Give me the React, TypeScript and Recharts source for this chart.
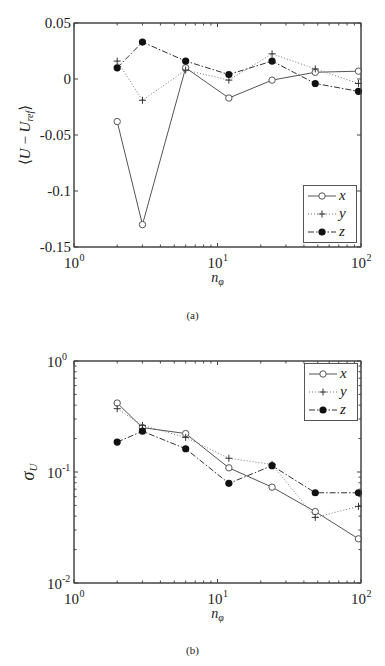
import React from 'react';
import { LineChart, Line, XAxis, YAxis, ReferenceLine } from 'recharts';

// n_phi values (x axis, log scale)
const nPhi = [2, 3, 6, 12, 24, 48, 96];

// (a) mean error <U - U_ref>
const meanX = [-0.038, -0.13, 0.01, -0.017, -0.001, 0.006, 0.007];
const meanY = [0.016, -0.019, 0.008, -0.001, 0.0225, 0.009, -0.004];
const meanZ = [0.01, 0.033, 0.016, 0.004, 0.016, -0.004, -0.011];

// (b) sigma_U
const sigmaX = [0.418, 0.251, 0.222, 0.109, 0.073, 0.044, 0.025];
const sigmaY = [0.372, 0.263, 0.205, 0.133, 0.117, 0.039, 0.049];
const sigmaZ = [0.186, 0.233, 0.162, 0.079, 0.114, 0.065, 0.065];

// ticks and their labels
const xTicks = [1, 10, 100];
const xTickExp = ['0', '1', '2'];
const meanTicks = [-0.15, -0.1, -0.05, 0, 0.05];
const meanTickLabels = ['-0.15', '-0.1', '-0.05', '0', '0.05'];
const sigmaTicks = [0.01, 0.1, 1];
const sigmaTickExp = ['-2', '-1', '0'];

const meanData = nPhi.map((n, i) => ({ n, x: meanX[i], y: meanY[i], z: meanZ[i] }));
const sigmaData = nPhi.map((n, i) => ({ n, x: sigmaX[i], y: sigmaY[i], z: sigmaZ[i] }));

const FONT = '"Liberation Serif", "DejaVu Serif", serif';
const AXIS = '#444';
const TXT = '#222';

const W = 385;
const LEFT = 74;
const RIGHT = 24;
const PLOT_W = W - LEFT - RIGHT;
const DECADE_W = PLOT_W / 2;
// chart (a)
const A_H = 290, A_TOP = 23, A_BOT = 3, A_XH = 40;
const A_PLOT_H = A_H - A_TOP - A_BOT - A_XH;
// chart (b)
const B_H = 300, B_TOP = 31, B_BOT = 10, B_XH = 37;
const B_PLOT_H = B_H - B_TOP - B_BOT - B_XH;
const B_DECADE_H = B_PLOT_H / 2;

// fractional offsets of 2..9 inside a decade
const MINOR = [2, 3, 4, 5, 6, 7, 8, 9].map((k) => Math.log10(k));

// x ticks: inward marks on bottom and top edges, decade label below
const XTick = (props: any) => {
  const { x, y, index, span, last } = props;
  let d = `M${x},${y}v-4M${x},${y - span}v4`;
  if (index < last) {
    MINOR.forEach((f) => {
      const mx = x + f * DECADE_W;
      d += `M${mx},${y}v-2.5M${mx},${y - span}v2.5`;
    });
  }
  return (
    <g>
      <path d={d} stroke={AXIS} strokeWidth={1} fill="none" />
      <text x={x - 2.5} y={y + 21} textAnchor="middle" fontSize={15} fill={TXT} fontFamily={FONT}>10</text>
      <text x={x + 5.5} y={y + 14} textAnchor="start" fontSize={10} fill={TXT} fontFamily={FONT}>{xTickExp[index]}</text>
    </g>
  );
};

// linear y ticks for (a), marks on left and right edges
const YTickLinear = (props: any) => {
  const { x, y, index } = props;
  return (
    <g>
      <path d={`M${x},${y}h4M${x + PLOT_W},${y}h-4`} stroke={AXIS} strokeWidth={1} fill="none" />
      <text x={x - 3} y={y + 5} textAnchor="end" fontSize={15} fill={TXT} fontFamily={FONT}>
        {meanTickLabels[index]}
      </text>
    </g>
  );
};

// log y ticks for (b), marks on left and right edges
const YTickLog = (props: any) => {
  const { x, y, index } = props;
  let d = `M${x},${y}h4M${x + PLOT_W},${y}h-4`;
  if (index > 0) {
    MINOR.forEach((f) => {
      const my = y + B_DECADE_H - f * B_DECADE_H;
      d += `M${x},${my}h2.5M${x + PLOT_W},${my}h-2.5`;
    });
  }
  return (
    <g>
      <path d={d} stroke={AXIS} strokeWidth={1} fill="none" />
      <text x={x - 12} y={y + 6} textAnchor="end" fontSize={15} fill={TXT} fontFamily={FONT}>10</text>
      <text x={x - 12} y={y - 1} textAnchor="start" fontSize={10} fill={TXT} fontFamily={FONT}>{sigmaTickExp[index]}</text>
    </g>
  );
};

const XTitle = (props: any) => {
  const { viewBox } = props;
  const cx = viewBox.x + viewBox.width / 2;
  return (
    <text x={cx} y={viewBox.y + 35} textAnchor="middle" fontSize={14} fill={TXT} fontFamily={FONT}>
      <tspan fontStyle="italic">n</tspan>
      <tspan dy={3} fontSize={10} fontStyle="italic">φ</tspan>
    </text>
  );
};

const MeanTitle = (props: any) => {
  const { viewBox } = props;
  const cy = viewBox.y + viewBox.height / 2;
  const tx = 30;
  return (
    <text x={tx} y={cy} transform={`rotate(-90 ${tx} ${cy})`} textAnchor="middle" fontSize={15} fill={TXT} fontFamily={FONT}>
      ⟨<tspan fontStyle="italic">U</tspan> − <tspan fontStyle="italic">U</tspan>
      <tspan dy={3} fontSize={10} fontStyle="italic">ref</tspan>
      <tspan dy={-3}>⟩</tspan>
    </text>
  );
};

const SigmaTitle = (props: any) => {
  const { viewBox } = props;
  const cy = viewBox.y + viewBox.height / 2;
  const tx = 34;
  return (
    <text x={tx} y={cy} transform={`rotate(-90 ${tx} ${cy})`} textAnchor="middle" fontSize={18} fill={TXT} fontFamily={FONT}>
      <tspan fontStyle="italic">σ</tspan>
      <tspan dy={3} fontSize={11} fontStyle="italic">U</tspan>
    </text>
  );
};

const OpenDot = (p: any) => (
  <circle key={`o${p.index}`} cx={p.cx} cy={p.cy} r={3.2} fill="#fff" stroke="#555" strokeWidth={1} />
);
const PlusDot = (p: any) => (
  <path key={`p${p.index}`} d={`M${p.cx - 3.5},${p.cy}h7M${p.cx},${p.cy - 3.5}v7`} stroke="#333" strokeWidth={1} />
);
const FillDot = (p: any) => <circle key={`f${p.index}`} cx={p.cx} cy={p.cy} r={3.6} fill="#111" />;

const LINE_X = { stroke: '#555', strokeWidth: 1 };
const LINE_Y = { stroke: '#777', strokeWidth: 1, strokeDasharray: '1 2' };
const LINE_Z = { stroke: '#333', strokeWidth: 1, strokeDasharray: '6 2 1.5 2' };

const LegendBox = ({ left, top }: { left: number; top: number }) => {
  const rows = [
    { label: 'x', line: LINE_X, mark: (cx: number, cy: number) => <circle cx={cx} cy={cy} r={3.2} fill="#fff" stroke="#555" /> },
    { label: 'y', line: LINE_Y, mark: (cx: number, cy: number) => <path d={`M${cx - 3.5},${cy}h7M${cx},${cy - 3.5}v7`} stroke="#333" /> },
    { label: 'z', line: LINE_Z, mark: (cx: number, cy: number) => <circle cx={cx} cy={cy} r={3.6} fill="#111" /> },
  ];
  return (
    <svg width={54} height={58} style={{ position: 'absolute', left, top }}>
      <rect x={0.5} y={0.5} width={53} height={57} fill="#fff" stroke="#555" />
      {rows.map((r, i) => {
        const cy = 11 + i * 18;
        return (
          <g key={r.label}>
            <line x1={5} x2={33} y1={cy} y2={cy} {...r.line} />
            {r.mark(19, cy)}
            <text x={36} y={cy + 4} fontSize={15} fontStyle="italic" fill={TXT} fontFamily={FONT}>{r.label}</text>
          </g>
        );
      })}
    </svg>
  );
};

// plot frame drawn over the chart
const Frame = ({ top, height }: { top: number; height: number }) => (
  <svg width={W} height={top + height + 2} style={{ position: 'absolute', left: 0, top: 0, pointerEvents: 'none' }}>
    <rect x={LEFT} y={top} width={PLOT_W} height={height} fill="none" stroke={AXIS} strokeWidth={1} />
  </svg>
);

const Caption = ({ top, text }: { top: number; text: string }) => (
  <div style={{ position: 'absolute', left: 0, top, width: W, textAlign: 'center', fontSize: 11, color: TXT, fontFamily: FONT }}>
    {text}
  </div>
);

export default function App() {
  return (
    <div style={{ position: 'absolute', left: 0, top: 0, width: W, height: 666, background: '#fff', fontFamily: FONT }}>
      <div style={{ position: 'absolute', left: 0, top: 0, width: W, height: A_H }}>
        <LineChart width={W} height={A_H} data={meanData} margin={{ top: A_TOP, right: RIGHT, bottom: A_BOT, left: 0 }}>
          <XAxis dataKey="n" type="number" scale="log" domain={[1, 100]} ticks={xTicks} interval={0}
            height={A_XH} tickSize={0} tickMargin={0} tickLine={false} stroke={AXIS}
            tick={<XTick span={A_PLOT_H} last={2} />} label={<XTitle />} />
          <YAxis type="number" domain={[-0.15, 0.05]} ticks={meanTicks} interval={0} width={LEFT}
            tickSize={0} tickMargin={0} tickLine={false} stroke={AXIS}
            tick={<YTickLinear />} label={<MeanTitle />} />
          <ReferenceLine y={0.05} stroke={AXIS} strokeWidth={1} />
          <ReferenceLine x={100} stroke={AXIS} strokeWidth={1} />
          <Line dataKey="x" {...LINE_X} dot={OpenDot} activeDot={false} isAnimationActive={false} />
          <Line dataKey="y" {...LINE_Y} dot={PlusDot} activeDot={false} isAnimationActive={false} />
          <Line dataKey="z" {...LINE_Z} dot={FillDot} activeDot={false} isAnimationActive={false} />
        </LineChart>
        <Frame top={A_TOP} height={A_PLOT_H} />
        <LegendBox left={303} top={185} />
      </div>
      <Caption top={309} text="(a)" />

      <div style={{ position: 'absolute', left: 0, top: 330, width: W, height: B_H }}>
        <LineChart width={W} height={B_H} data={sigmaData} margin={{ top: B_TOP, right: RIGHT, bottom: B_BOT, left: 0 }}>
          <XAxis dataKey="n" type="number" scale="log" domain={[1, 100]} ticks={xTicks} interval={0}
            height={B_XH} tickSize={0} tickMargin={0} tickLine={false} stroke={AXIS}
            tick={<XTick span={B_PLOT_H} last={2} />} label={<XTitle />} />
          <YAxis type="number" scale="log" domain={[0.01, 1]} ticks={sigmaTicks} interval={0} width={LEFT}
            tickSize={0} tickMargin={0} tickLine={false} stroke={AXIS}
            tick={<YTickLog />} label={<SigmaTitle />} />
          <ReferenceLine y={1} stroke={AXIS} strokeWidth={1} />
          <ReferenceLine x={100} stroke={AXIS} strokeWidth={1} />
          <Line dataKey="x" {...LINE_X} dot={OpenDot} activeDot={false} isAnimationActive={false} />
          <Line dataKey="y" {...LINE_Y} dot={PlusDot} activeDot={false} isAnimationActive={false} />
          <Line dataKey="z" {...LINE_Z} dot={FillDot} activeDot={false} isAnimationActive={false} />
        </LineChart>
        <Frame top={B_TOP} height={B_PLOT_H} />
        <LegendBox left={304} top={33} />
      </div>
      <Caption top={644} text="(b)" />
    </div>
  );
}
